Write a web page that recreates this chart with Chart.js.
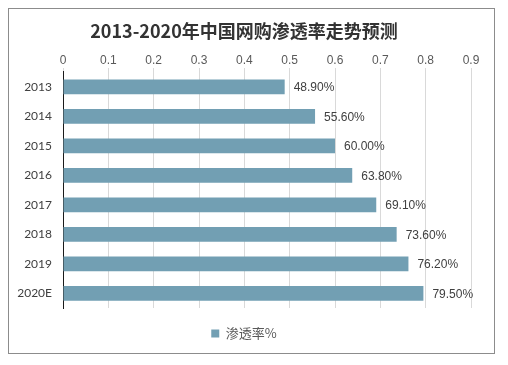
<!DOCTYPE html>
<html>
<head>
<meta charset="utf-8">
<script src="https://cdn.jsdelivr.net/npm/chart.js@4"></script>
<style>
  html, body { margin: 0; padding: 0; background: #fff; }
  body { width: 508px; height: 365px; position: relative; }
  #box { position: absolute; left: 8px; top: 8px; width: 485px; height: 344px; border: 1px solid #8c8c8c; }
  #box canvas { display: block; }
</style>
</head>
<body>
<div id="box"><canvas id="grafico" width="485" height="344"></canvas></div>
<script>
// datos
const categorias = ['2013', '2014', '2015', '2016', '2017', '2018', '2019', '2020E'];
const penetracion = [0.489, 0.556, 0.600, 0.638, 0.691, 0.736, 0.762, 0.795];
const etiquetaSerie = '渗透率%';
const titulo = '2013-2020年中国网购渗透率走势预测';

// etiquetas de porcentaje a la derecha de cada barra
const etiquetasValor = {
    id: 'etiquetasValor',
    afterDatasetsDraw(chart) {
        const ctx = chart.ctx;
        const meta = chart.getDatasetMeta(0);
        ctx.save();
        ctx.font = '12px "Liberation Sans", Arial, sans-serif';
        ctx.fillStyle = '#404040';
        ctx.textAlign = 'left';
        ctx.textBaseline = 'middle';
        meta.data.forEach((barra, i) => {
            const v = chart.data.datasets[0].data[i];
            ctx.fillText((v * 100).toFixed(2) + '%', barra.x + 9, barra.y + 1);
        });
        ctx.restore();
    }
};

new Chart(document.getElementById('grafico').getContext('2d'), {
    type: 'bar',
    data: {
        labels: categorias,
        datasets: [{
            label: etiquetaSerie,
            data: penetracion,
            backgroundColor: '#729fb3',
            barPercentage: 0.5,
            categoryPercentage: 1.0
        }]
    },
    options: {
        indexAxis: 'y',
        responsive: false,
        animation: false,
        layout: { padding: { left: 8, right: 23, top: 0, bottom: 3 } },
        scales: {
            x: {
                position: 'top',
                min: 0,
                max: 0.9,
                ticks: {
                    stepSize: 0.1,
                    padding: 0,
                    color: '#595959',
                    font: { family: '"Liberation Sans", Arial, sans-serif', size: 12 }
                },
                grid: { color: '#d9d9d9', tickLength: 4, tickColor: '#d9d9d9' },
                border: { display: false }
            },
            y: {
                afterFit(s) { s.width = 46; },
                ticks: {
                    padding: 11,
                    color: '#404040',
                    font: { family: 'Lato, "Noto Sans CJK SC", sans-serif', size: 12 }
                },
                grid: { display: false, drawTicks: false },
                border: { display: true, color: '#1a1a1a', width: 1 }
            }
        },
        plugins: {
            title: {
                display: true,
                text: titulo,
                color: '#333333',
                font: { family: '"Noto Sans CJK SC", sans-serif', size: 18, weight: 'bold' },
                padding: { top: 11, bottom: 12 }
            },
            legend: {
                position: 'bottom',
                labels: {
                    boxWidth: 8,
                    boxHeight: 8,
                    padding: 19,
                    color: '#595959',
                    font: { family: '"Noto Sans CJK SC", sans-serif', size: 13 }
                }
            },
            tooltip: { enabled: false }
        }
    },
    plugins: [etiquetasValor]
});
</script>
</body>
</html>
